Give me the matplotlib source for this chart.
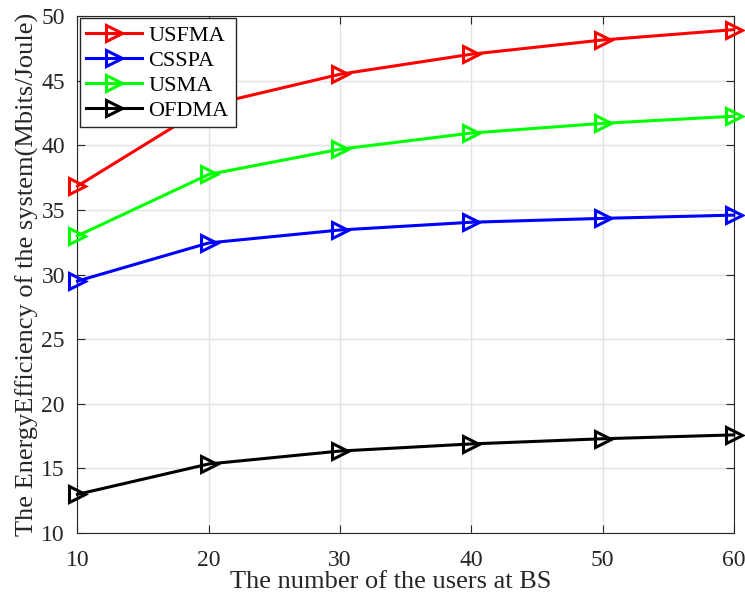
import matplotlib.pyplot as plt

plt.rcParams['font.family'] = ['Liberation Serif', 'DejaVu Serif']
plt.rcParams['mathtext.fontset'] = 'stix'

users = [10, 20, 30, 40, 50, 60]
usfma = [36.85, 43.1, 45.5, 47.05, 48.15, 48.95]
csspa = [29.5, 32.45, 33.45, 34.05, 34.35, 34.6]
usma = [33.0, 37.75, 39.7, 40.95, 41.7, 42.25]
ofdma = [13.0, 15.35, 16.35, 16.9, 17.3, 17.6]

fig = plt.figure(figsize=(7.45, 5.95), dpi=100)
ax = fig.add_axes([0.104, 0.104, 0.881, 0.869])

for y, c, lab in [(usfma, 'red', 'USFMA'), (csspa, 'blue', 'CSSPA'),
                  (usma, '#00ff00', 'USMA'), (ofdma, 'black', 'OFDMA')]:
    ax.plot(users, y, color=c, lw=2.2, marker='>', ms=11, mfc='none',
            mew=2.2, label=lab, clip_on=False, zorder=3)

ax.set_xlim(10, 60)
ax.set_ylim(10, 50)
ax.set_xticks(users)
ax.set_yticks(range(10, 51, 5))
ax.grid(True, color='#e3e3e3', lw=1)
ax.set_axisbelow(True)
ax.tick_params(direction='in', top=True, right=True, labelsize=17, length=6,
               color='#262626', labelcolor='#262626')
ax.tick_params(axis='x', pad=12)
ax.tick_params(axis='y', pad=9)
for s in ax.spines.values():
    s.set_color('#262626')
ax.set_xlabel('The number of the users at BS', fontsize=19, labelpad=0,
              color='#262626')
ax.xaxis.set_label_coords(0.477, -0.0725, transform=ax.transAxes)
ax.xaxis.label.set_va('top')
ax.set_ylabel('The EnergyEfficiency of the system(Mbits/Joule)', fontsize=19,
              labelpad=2, color='#262626')
leg = ax.legend(loc='upper left', fontsize=16, fancybox=False, framealpha=1,
                edgecolor='#262626', borderaxespad=0.1, handlelength=2.5,
                labelspacing=0.2, borderpad=0.3, handletextpad=0.3)
leg.get_frame().set_linewidth(1)

fig.savefig('out.png', dpi=100)
